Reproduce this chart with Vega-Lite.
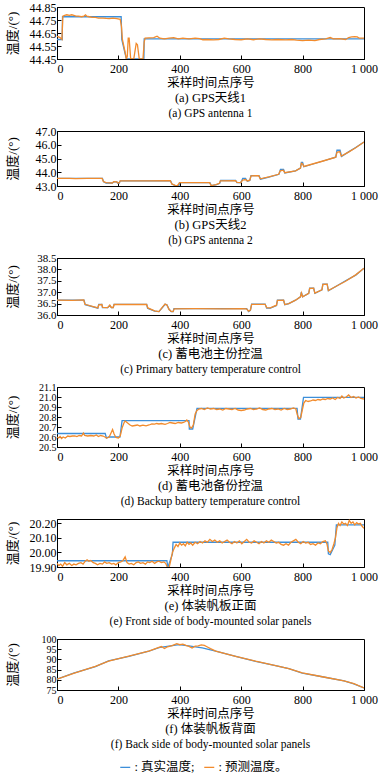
{
  "$schema": "https://vega.github.io/schema/vega-lite/v6.json",
  "padding": {"top": 0, "left": 5, "right": 2, "bottom": 0},
  "background": "white",
  "spacing": 72,
  "bounds": "flush",
  "resolve": {"scale": {"x": "independent", "y": "independent", "color": "shared"}, "legend": {"color": "shared"}},
  "datasets": {
    "a1": [{"x":0,"y":44.60},{"x":17,"y":44.60},{"x":18,"y":44.775},{"x":209,"y":44.775},{"x":211,"y":44.60},{"x":226,"y":44.45},{"x":283,"y":44.45},{"x":284,"y":44.605},{"x":1000,"y":44.605}],
    "a2": [{"x":0,"y":44.625},{"x":5,"y":44.62},{"x":10,"y":44.615},{"x":14,"y":44.605},{"x":16,"y":44.60},{"x":19,"y":44.78},{"x":25,"y":44.785},{"x":32,"y":44.79},{"x":40,"y":44.785},{"x":48,"y":44.79},{"x":55,"y":44.785},{"x":62,"y":44.78},{"x":70,"y":44.78},{"x":80,"y":44.775},{"x":88,"y":44.78},{"x":93,"y":44.79},{"x":97,"y":44.78},{"x":105,"y":44.775},{"x":115,"y":44.77},{"x":125,"y":44.77},{"x":135,"y":44.765},{"x":150,"y":44.765},{"x":160,"y":44.762},{"x":170,"y":44.76},{"x":182,"y":44.765},{"x":195,"y":44.76},{"x":206,"y":44.755},{"x":210,"y":44.70},{"x":213,"y":44.60},{"x":222,"y":44.50},{"x":226,"y":44.45},{"x":229,"y":44.47},{"x":232,"y":44.61},{"x":235,"y":44.61},{"x":240,"y":44.45},{"x":250,"y":44.45},{"x":258,"y":44.57},{"x":262,"y":44.56},{"x":268,"y":44.45},{"x":280,"y":44.45},{"x":284,"y":44.58},{"x":287,"y":44.61},{"x":300,"y":44.612},{"x":315,"y":44.615},{"x":326,"y":44.625},{"x":335,"y":44.61},{"x":350,"y":44.605},{"x":365,"y":44.61},{"x":380,"y":44.615},{"x":395,"y":44.605},{"x":410,"y":44.61},{"x":430,"y":44.605},{"x":450,"y":44.61},{"x":465,"y":44.607},{"x":475,"y":44.598},{"x":490,"y":44.60},{"x":510,"y":44.597},{"x":527,"y":44.60},{"x":545,"y":44.61},{"x":560,"y":44.605},{"x":580,"y":44.60},{"x":600,"y":44.598},{"x":620,"y":44.605},{"x":640,"y":44.598},{"x":660,"y":44.605},{"x":680,"y":44.60},{"x":700,"y":44.597},{"x":720,"y":44.60},{"x":745,"y":44.597},{"x":765,"y":44.60},{"x":780,"y":44.595},{"x":800,"y":44.592},{"x":820,"y":44.595},{"x":840,"y":44.592},{"x":855,"y":44.60},{"x":875,"y":44.605},{"x":890,"y":44.615},{"x":900,"y":44.605},{"x":920,"y":44.607},{"x":940,"y":44.60},{"x":950,"y":44.615},{"x":960,"y":44.62},{"x":970,"y":44.622},{"x":978,"y":44.62},{"x":985,"y":44.61},{"x":1000,"y":44.61}],
    "b1": [{"x":0,"y":43.55},{"x":148,"y":43.55},{"x":152,"y":43.3},{"x":160,"y":43.22},{"x":180,"y":43.22},{"x":185,"y":43.3},{"x":195,"y":43.3},{"x":197,"y":43.22},{"x":203,"y":43.22},{"x":206,"y":43.38},{"x":370,"y":43.38},{"x":375,"y":43.12},{"x":390,"y":43.0},{"x":397,"y":43.0},{"x":399,"y":43.25},{"x":498,"y":43.25},{"x":503,"y":43.02},{"x":520,"y":43.1},{"x":530,"y":43.2},{"x":533,"y":43.4},{"x":582,"y":43.4},{"x":586,"y":43.25},{"x":598,"y":43.25},{"x":602,"y":43.4},{"x":605,"y":43.55},{"x":614,"y":43.55},{"x":620,"y":43.35},{"x":628,"y":43.4},{"x":632,"y":43.75},{"x":658,"y":43.75},{"x":663,"y":43.5},{"x":690,"y":43.65},{"x":723,"y":43.85},{"x":728,"y":44.2},{"x":738,"y":44.2},{"x":742,"y":43.95},{"x":777,"y":44.1},{"x":793,"y":44.3},{"x":796,"y":44.72},{"x":800,"y":44.72},{"x":804,"y":44.4},{"x":864,"y":44.8},{"x":908,"y":45.1},{"x":912,"y":45.6},{"x":922,"y":45.6},{"x":927,"y":45.15},{"x":951,"y":45.5},{"x":973,"y":45.8},{"x":1000,"y":46.2}],
    "b2": [{"x":0,"y":43.56},{"x":40,"y":43.55},{"x":60,"y":43.53},{"x":100,"y":43.56},{"x":147,"y":43.55},{"x":151,"y":43.32},{"x":160,"y":43.24},{"x":180,"y":43.22},{"x":185,"y":43.32},{"x":195,"y":43.3},{"x":198,"y":43.22},{"x":203,"y":43.24},{"x":206,"y":43.38},{"x":260,"y":43.38},{"x":300,"y":43.37},{"x":369,"y":43.38},{"x":374,"y":43.15},{"x":385,"y":43.05},{"x":392,"y":43.02},{"x":398,"y":43.2},{"x":400,"y":43.24},{"x":450,"y":43.25},{"x":497,"y":43.24},{"x":502,"y":43.03},{"x":518,"y":43.1},{"x":529,"y":43.2},{"x":532,"y":43.38},{"x":581,"y":43.39},{"x":586,"y":43.27},{"x":598,"y":43.25},{"x":603,"y":43.38},{"x":608,"y":43.45},{"x":614,"y":43.47},{"x":620,"y":43.37},{"x":628,"y":43.42},{"x":632,"y":43.74},{"x":657,"y":43.75},{"x":662,"y":43.52},{"x":690,"y":43.66},{"x":722,"y":43.85},{"x":727,"y":44.1},{"x":737,"y":44.15},{"x":742,"y":43.97},{"x":777,"y":44.1},{"x":793,"y":44.3},{"x":796,"y":44.65},{"x":800,"y":44.6},{"x":804,"y":44.42},{"x":864,"y":44.8},{"x":908,"y":45.1},{"x":912,"y":45.45},{"x":921,"y":45.5},{"x":926,"y":45.17},{"x":951,"y":45.48},{"x":973,"y":45.78},{"x":1000,"y":46.2}],
    "c1": [{"x":0,"y":36.65},{"x":88,"y":36.65},{"x":92,"y":36.45},{"x":133,"y":36.3},{"x":136,"y":36.47},{"x":146,"y":36.47},{"x":148,"y":36.32},{"x":165,"y":36.32},{"x":172,"y":36.42},{"x":177,"y":36.32},{"x":183,"y":36.32},{"x":186,"y":36.47},{"x":292,"y":36.47},{"x":295,"y":36.3},{"x":318,"y":36.17},{"x":332,"y":36.15},{"x":342,"y":36.3},{"x":352,"y":36.47},{"x":358,"y":36.45},{"x":365,"y":36.25},{"x":372,"y":36.15},{"x":378,"y":36.15},{"x":381,"y":36.28},{"x":618,"y":36.28},{"x":624,"y":36.15},{"x":630,"y":36.2},{"x":634,"y":36.48},{"x":678,"y":36.48},{"x":683,"y":36.3},{"x":695,"y":36.3},{"x":715,"y":36.42},{"x":718,"y":36.65},{"x":738,"y":36.65},{"x":742,"y":36.45},{"x":755,"y":36.5},{"x":777,"y":36.65},{"x":793,"y":36.8},{"x":796,"y":37.0},{"x":800,"y":36.8},{"x":820,"y":36.95},{"x":823,"y":37.18},{"x":836,"y":37.18},{"x":840,"y":36.95},{"x":863,"y":37.1},{"x":866,"y":37.35},{"x":880,"y":37.35},{"x":884,"y":37.06},{"x":908,"y":37.25},{"x":940,"y":37.5},{"x":973,"y":37.75},{"x":1000,"y":38.05}],
    "c2": [{"x":0,"y":36.65},{"x":50,"y":36.64},{"x":87,"y":36.66},{"x":91,"y":36.47},{"x":133,"y":36.31},{"x":136,"y":36.45},{"x":146,"y":36.46},{"x":149,"y":36.33},{"x":165,"y":36.32},{"x":172,"y":36.43},{"x":177,"y":36.33},{"x":183,"y":36.33},{"x":186,"y":36.46},{"x":250,"y":36.47},{"x":292,"y":36.46},{"x":296,"y":36.31},{"x":318,"y":36.18},{"x":332,"y":36.15},{"x":342,"y":36.32},{"x":352,"y":36.48},{"x":358,"y":36.44},{"x":365,"y":36.24},{"x":372,"y":36.16},{"x":378,"y":36.15},{"x":382,"y":36.27},{"x":450,"y":36.28},{"x":540,"y":36.27},{"x":600,"y":36.28},{"x":617,"y":36.27},{"x":624,"y":36.17},{"x":630,"y":36.22},{"x":634,"y":36.47},{"x":678,"y":36.47},{"x":683,"y":36.32},{"x":695,"y":36.31},{"x":715,"y":36.43},{"x":718,"y":36.64},{"x":738,"y":36.65},{"x":742,"y":36.46},{"x":755,"y":36.5},{"x":777,"y":36.65},{"x":793,"y":36.8},{"x":796,"y":36.97},{"x":800,"y":36.8},{"x":820,"y":36.95},{"x":823,"y":37.17},{"x":836,"y":37.18},{"x":840,"y":36.96},{"x":863,"y":37.1},{"x":866,"y":37.34},{"x":880,"y":37.35},{"x":884,"y":37.07},{"x":908,"y":37.25},{"x":940,"y":37.48},{"x":973,"y":37.76},{"x":1000,"y":38.05}],
    "d1": [{"x":0,"y":20.635},{"x":157,"y":20.635},{"x":161,"y":20.59},{"x":168,"y":20.6},{"x":205,"y":20.6},{"x":212,"y":20.763},{"x":430,"y":20.763},{"x":431,"y":20.68},{"x":442,"y":20.68},{"x":456,"y":20.887},{"x":782,"y":20.887},{"x":785,"y":20.78},{"x":793,"y":20.78},{"x":803,"y":20.997},{"x":1000,"y":20.997}],
    "d2": [{"x":0,"y":20.60},{"x":5,"y":20.59},{"x":10,"y":20.605},{"x":15,"y":20.585},{"x":20,"y":20.60},{"x":27,"y":20.59},{"x":35,"y":20.61},{"x":42,"y":20.605},{"x":50,"y":20.61},{"x":58,"y":20.612},{"x":65,"y":20.605},{"x":72,"y":20.615},{"x":80,"y":20.61},{"x":86,"y":20.64},{"x":90,"y":20.615},{"x":100,"y":20.61},{"x":110,"y":20.615},{"x":120,"y":20.61},{"x":128,"y":20.62},{"x":135,"y":20.605},{"x":142,"y":20.615},{"x":150,"y":20.61},{"x":156,"y":20.60},{"x":162,"y":20.59},{"x":170,"y":20.60},{"x":176,"y":20.64},{"x":181,"y":20.675},{"x":186,"y":20.63},{"x":192,"y":20.595},{"x":200,"y":20.59},{"x":206,"y":20.61},{"x":212,"y":20.69},{"x":218,"y":20.74},{"x":222,"y":20.76},{"x":228,"y":20.745},{"x":234,"y":20.73},{"x":238,"y":20.72},{"x":245,"y":20.71},{"x":254,"y":20.715},{"x":262,"y":20.72},{"x":270,"y":20.71},{"x":280,"y":20.718},{"x":290,"y":20.712},{"x":300,"y":20.72},{"x":309,"y":20.73},{"x":318,"y":20.728},{"x":325,"y":20.735},{"x":332,"y":20.73},{"x":340,"y":20.735},{"x":352,"y":20.727},{"x":360,"y":20.735},{"x":368,"y":20.745},{"x":376,"y":20.74},{"x":385,"y":20.735},{"x":395,"y":20.745},{"x":405,"y":20.74},{"x":412,"y":20.745},{"x":418,"y":20.755},{"x":423,"y":20.77},{"x":428,"y":20.75},{"x":433,"y":20.70},{"x":438,"y":20.69},{"x":444,"y":20.72},{"x":450,"y":20.83},{"x":456,"y":20.865},{"x":462,"y":20.88},{"x":470,"y":20.885},{"x":480,"y":20.875},{"x":490,"y":20.89},{"x":500,"y":20.88},{"x":510,"y":20.885},{"x":520,"y":20.875},{"x":530,"y":20.88},{"x":540,"y":20.87},{"x":550,"y":20.885},{"x":560,"y":20.88},{"x":570,"y":20.875},{"x":580,"y":20.885},{"x":590,"y":20.87},{"x":600,"y":20.865},{"x":610,"y":20.87},{"x":620,"y":20.88},{"x":630,"y":20.885},{"x":640,"y":20.875},{"x":650,"y":20.88},{"x":660,"y":20.89},{"x":670,"y":20.875},{"x":680,"y":20.87},{"x":690,"y":20.88},{"x":700,"y":20.885},{"x":710,"y":20.875},{"x":720,"y":20.88},{"x":730,"y":20.87},{"x":740,"y":20.885},{"x":750,"y":20.875},{"x":760,"y":20.88},{"x":770,"y":20.89},{"x":778,"y":20.88},{"x":783,"y":20.82},{"x":788,"y":20.785},{"x":794,"y":20.795},{"x":799,"y":20.87},{"x":804,"y":20.94},{"x":810,"y":20.965},{"x":818,"y":20.955},{"x":826,"y":20.96},{"x":834,"y":20.97},{"x":842,"y":20.965},{"x":850,"y":20.975},{"x":858,"y":20.97},{"x":866,"y":20.98},{"x":874,"y":20.975},{"x":882,"y":20.985},{"x":890,"y":20.98},{"x":898,"y":20.99},{"x":906,"y":20.975},{"x":914,"y":20.995},{"x":922,"y":20.985},{"x":928,"y":21.01},{"x":934,"y":20.99},{"x":942,"y":21.0},{"x":950,"y":21.02},{"x":958,"y":20.995},{"x":966,"y":21.005},{"x":974,"y":20.99},{"x":982,"y":21.0},{"x":990,"y":20.985},{"x":1000,"y":20.98}],
    "e1": [{"x":0,"y":19.943},{"x":358,"y":19.943},{"x":361,"y":19.897},{"x":376,"y":19.99},{"x":378,"y":20.07},{"x":882,"y":20.07},{"x":884,"y":19.99},{"x":890,"y":19.985},{"x":905,"y":20.05},{"x":910,"y":20.19},{"x":1000,"y":20.19}],
    "e2": [{"x":0,"y":19.925},{"x":6,"y":19.91},{"x":12,"y":19.92},{"x":18,"y":19.905},{"x":25,"y":19.93},{"x":32,"y":19.915},{"x":40,"y":19.925},{"x":48,"y":19.91},{"x":55,"y":19.92},{"x":62,"y":19.915},{"x":70,"y":19.925},{"x":78,"y":19.93},{"x":85,"y":19.92},{"x":92,"y":19.94},{"x":98,"y":19.95},{"x":104,"y":19.94},{"x":110,"y":19.945},{"x":118,"y":19.93},{"x":125,"y":19.925},{"x":132,"y":19.915},{"x":140,"y":19.925},{"x":148,"y":19.92},{"x":155,"y":19.935},{"x":162,"y":19.925},{"x":170,"y":19.93},{"x":178,"y":19.92},{"x":185,"y":19.925},{"x":192,"y":19.915},{"x":200,"y":19.93},{"x":208,"y":19.935},{"x":215,"y":19.945},{"x":222,"y":19.97},{"x":228,"y":19.93},{"x":235,"y":19.92},{"x":242,"y":19.925},{"x":250,"y":19.915},{"x":258,"y":19.93},{"x":265,"y":19.935},{"x":272,"y":19.925},{"x":280,"y":19.93},{"x":288,"y":19.92},{"x":295,"y":19.935},{"x":302,"y":19.93},{"x":310,"y":19.94},{"x":318,"y":19.925},{"x":325,"y":19.935},{"x":332,"y":19.94},{"x":340,"y":19.93},{"x":348,"y":19.935},{"x":354,"y":19.925},{"x":359,"y":19.90},{"x":364,"y":19.885},{"x":370,"y":19.94},{"x":376,"y":20.00},{"x":382,"y":20.03},{"x":388,"y":20.055},{"x":394,"y":20.04},{"x":400,"y":20.065},{"x":406,"y":20.05},{"x":412,"y":20.06},{"x":418,"y":20.045},{"x":424,"y":20.07},{"x":430,"y":20.055},{"x":436,"y":20.065},{"x":442,"y":20.05},{"x":450,"y":20.07},{"x":458,"y":20.06},{"x":466,"y":20.075},{"x":474,"y":20.065},{"x":482,"y":20.08},{"x":490,"y":20.07},{"x":498,"y":20.09},{"x":506,"y":20.075},{"x":514,"y":20.085},{"x":522,"y":20.07},{"x":530,"y":20.08},{"x":538,"y":20.065},{"x":546,"y":20.075},{"x":554,"y":20.085},{"x":562,"y":20.07},{"x":570,"y":20.06},{"x":578,"y":20.075},{"x":586,"y":20.065},{"x":594,"y":20.08},{"x":602,"y":20.06},{"x":610,"y":20.075},{"x":618,"y":20.09},{"x":626,"y":20.07},{"x":634,"y":20.065},{"x":642,"y":20.08},{"x":650,"y":20.07},{"x":658,"y":20.06},{"x":666,"y":20.075},{"x":674,"y":20.065},{"x":682,"y":20.08},{"x":690,"y":20.07},{"x":698,"y":20.085},{"x":706,"y":20.075},{"x":714,"y":20.065},{"x":722,"y":20.07},{"x":730,"y":20.055},{"x":738,"y":20.05},{"x":746,"y":20.06},{"x":754,"y":20.05},{"x":762,"y":20.07},{"x":770,"y":20.08},{"x":778,"y":20.09},{"x":786,"y":20.07},{"x":794,"y":20.06},{"x":802,"y":20.075},{"x":810,"y":20.065},{"x":818,"y":20.07},{"x":826,"y":20.055},{"x":834,"y":20.06},{"x":842,"y":20.05},{"x":850,"y":20.065},{"x":858,"y":20.06},{"x":866,"y":20.075},{"x":874,"y":20.08},{"x":879,"y":20.06},{"x":884,"y":20.01},{"x":890,"y":20.0},{"x":896,"y":20.02},{"x":902,"y":20.06},{"x":907,"y":20.10},{"x":912,"y":20.17},{"x":917,"y":20.2},{"x":922,"y":20.185},{"x":928,"y":20.21},{"x":934,"y":20.195},{"x":940,"y":20.2},{"x":946,"y":20.185},{"x":952,"y":20.22},{"x":958,"y":20.2},{"x":964,"y":20.21},{"x":970,"y":20.19},{"x":976,"y":20.205},{"x":982,"y":20.195},{"x":988,"y":20.2},{"x":994,"y":20.18},{"x":1000,"y":20.165}],
    "f1": [{"x":0,"y":80.3},{"x":54,"y":83.3},{"x":125,"y":86.5},{"x":168,"y":89.3},{"x":234,"y":91.5},{"x":299,"y":94},{"x":332,"y":95.8},{"x":397,"y":97.2},{"x":429,"y":96.6},{"x":473,"y":95.6},{"x":517,"y":94},{"x":582,"y":91.5},{"x":647,"y":89},{"x":712,"y":87},{"x":755,"y":85.5},{"x":799,"y":83.3},{"x":864,"y":81.5},{"x":935,"y":79.5},{"x":967,"y":78},{"x":1000,"y":76}],
    "f2": [{"x":0,"y":80.3},{"x":54,"y":83.2},{"x":125,"y":86.6},{"x":168,"y":89.2},{"x":234,"y":91.6},{"x":299,"y":94.1},{"x":332,"y":95.9},{"x":340,"y":96.3},{"x":350,"y":95.3},{"x":360,"y":96.2},{"x":375,"y":96.8},{"x":390,"y":97.7},{"x":400,"y":97.2},{"x":410,"y":97.5},{"x":420,"y":96.9},{"x":430,"y":96.4},{"x":440,"y":95.6},{"x":450,"y":96.5},{"x":460,"y":96.6},{"x":470,"y":97.1},{"x":480,"y":96.9},{"x":490,"y":96.1},{"x":500,"y":95.3},{"x":517,"y":94.1},{"x":582,"y":91.5},{"x":647,"y":89.1},{"x":712,"y":87},{"x":755,"y":85.5},{"x":799,"y":83.4},{"x":864,"y":81.5},{"x":935,"y":79.5},{"x":967,"y":78.1},{"x":1000,"y":76}]
  },
  "vconcat": [
    {
      "width": 307, "height": 52,
      "title": {"text": "(a) GPS天线1", "subtitle": "(a) GPS antenna 1"},
      "encoding": {
        "x": {"field": "x", "type": "quantitative", "scale": {"domain": [0, 1000]}, "axis": {"values": [0,200,400,600,800,1000], "title": "采样时间点序号", "labelAlign": {"condition": {"test": "datum.value == 0", "value": "left"}, "value": "center"}}},
        "y": {"field": "y", "type": "quantitative", "scale": {"domain": [44.45, 44.85], "zero": false}, "axis": {"values": [44.45,44.55,44.65,44.75,44.85], "format": ".2f", "title": "温度/(°)"}}
      },
      "layer": [
        {"data": {"name": "a1"}, "mark": {"type": "line", "clip": true}, "encoding": {"color": {"datum": "真实温度", "legend": {"orient": "none", "legendX": 62, "legendY": 754, "direction": "horizontal", "title": null, "labelExpr": "datum.label == '真实温度' ? ': 真实温度;' : ': 预测温度。'"}}}},
        {"data": {"name": "a2"}, "mark": {"type": "line", "clip": true}, "encoding": {"color": {"datum": "预测温度"}}}
      ]
    },
    {
      "width": 307, "height": 55,
      "title": {"text": "(b) GPS天线2", "subtitle": "(b) GPS antenna 2"},
      "encoding": {
        "x": {"field": "x", "type": "quantitative", "scale": {"domain": [0, 1000]}, "axis": {"values": [0,200,400,600,800,1000], "title": "采样时间点序号", "labelAlign": {"condition": {"test": "datum.value == 0", "value": "left"}, "value": "center"}}},
        "y": {"field": "y", "type": "quantitative", "scale": {"domain": [43, 47], "zero": false}, "axis": {"values": [43,44,45,46,47], "format": ".1f", "title": "温度/(°)"}}
      },
      "layer": [
        {"data": {"name": "b1"}, "mark": {"type": "line", "clip": true}, "encoding": {"color": {"datum": "真实温度"}}},
        {"data": {"name": "b2"}, "mark": {"type": "line", "clip": true}, "encoding": {"color": {"datum": "预测温度"}}}
      ]
    },
    {
      "width": 307, "height": 57,
      "title": {"text": "(c) 蓄电池主份控温", "subtitle": "(c) Primary battery temperature control"},
      "encoding": {
        "x": {"field": "x", "type": "quantitative", "scale": {"domain": [0, 1000]}, "axis": {"values": [0,200,400,600,800,1000], "title": "采样时间点序号", "labelAlign": {"condition": {"test": "datum.value == 0", "value": "left"}, "value": "center"}}},
        "y": {"field": "y", "type": "quantitative", "scale": {"domain": [36, 38.5], "zero": false}, "axis": {"values": [36,36.5,37,37.5,38,38.5], "format": ".1f", "title": "温度/(°)", "labelFontSize": 11}}
      },
      "layer": [
        {"data": {"name": "c1"}, "mark": {"type": "line", "clip": true}, "encoding": {"color": {"datum": "真实温度"}}},
        {"data": {"name": "c2"}, "mark": {"type": "line", "clip": true}, "encoding": {"color": {"datum": "预测温度"}}}
      ]
    },
    {
      "width": 307, "height": 60,
      "title": {"text": "(d) 蓄电池备份控温", "subtitle": "(d) Backup battery temperature control"},
      "encoding": {
        "x": {"field": "x", "type": "quantitative", "scale": {"domain": [0, 1000]}, "axis": {"values": [0,200,400,600,800,1000], "title": "采样时间点序号", "labelAlign": {"condition": {"test": "datum.value == 0", "value": "left"}, "value": "center"}}},
        "y": {"field": "y", "type": "quantitative", "scale": {"domain": [20.5, 21.1], "zero": false}, "axis": {"values": [20.5,20.6,20.7,20.8,20.9,21.0,21.1], "format": ".1f", "title": "温度/(°)", "labelFontSize": 10}}
      },
      "layer": [
        {"data": {"name": "d1"}, "mark": {"type": "line", "clip": true}, "encoding": {"color": {"datum": "真实温度"}}},
        {"data": {"name": "d2"}, "mark": {"type": "line", "clip": true}, "encoding": {"color": {"datum": "预测温度"}}}
      ]
    },
    {
      "width": 307, "height": 48,
      "title": {"text": "(e) 体装帆板正面", "subtitle": "(e) Front side of body-mounted solar panels"},
      "encoding": {
        "x": {"field": "x", "type": "quantitative", "scale": {"domain": [0, 1000]}, "axis": {"values": [0,200,400,600,800,1000], "title": "采样时间点序号", "labelAlign": {"condition": {"test": "datum.value == 0", "value": "left"}, "value": "center"}}},
        "y": {"field": "y", "type": "quantitative", "scale": {"domain": [19.9, 20.23], "zero": false, "nice": false}, "axis": {"values": [19.9,20.0,20.1,20.2], "format": ".2f", "title": "温度/(°)"}}
      },
      "layer": [
        {"data": {"name": "e1"}, "mark": {"type": "line", "clip": true}, "encoding": {"color": {"datum": "真实温度"}}},
        {"data": {"name": "e2"}, "mark": {"type": "line", "clip": true}, "encoding": {"color": {"datum": "预测温度"}}}
      ]
    },
    {
      "width": 307, "height": 51,
      "title": {"text": "(f) 体装帆板背面", "subtitle": "(f) Back side of body-mounted solar panels"},
      "encoding": {
        "x": {"field": "x", "type": "quantitative", "scale": {"domain": [0, 1000]}, "axis": {"values": [0,200,400,600,800,1000], "title": "采样时间点序号", "labelAlign": {"condition": {"test": "datum.value == 0", "value": "left"}, "value": "center"}}},
        "y": {"field": "y", "type": "quantitative", "scale": {"domain": [75, 100], "zero": false}, "axis": {"values": [75,80,85,90,95,100], "format": "d", "title": "温度/(°)", "labelFontSize": 10}}
      },
      "layer": [
        {"data": {"name": "f1"}, "mark": {"type": "line", "clip": true}, "encoding": {"color": {"datum": "真实温度"}}},
        {"data": {"name": "f2"}, "mark": {"type": "line", "clip": true}, "encoding": {"color": {"datum": "预测温度"}}}
      ]
    }
  ],
  "config": {
    "view": {"stroke": "black", "strokeWidth": 1},
    "line": {"strokeWidth": 1.3},
    "range": {"category": ["#3d8fd9", "#f28b2c"]},
    "axis": {
      "grid": false,
      "domainColor": "black",
      "tickColor": "black",
      "tickSize": -4,
      "labelOverlap": false,
      "labelFont": "Liberation Serif",
      "labelFontSize": 12,
      "labelColor": "black",
      "titleFont": "Liberation Serif, Noto Sans CJK SC",
      "titleFontSize": 12.5,
      "titleFontWeight": "normal",
      "titleColor": "black"
    },
    "axisX": {"labelFlush": false, "labelPadding": 8, "titlePadding": 2, "labelExpr": "datum.value == 1000 ? '1 000' : datum.label"},
    "axisY": {"labelPadding": 5, "titleX": -38, "titleFontSize": 13},
    "title": {
      "orient": "bottom",
      "anchor": "middle",
      "font": "Liberation Serif, Noto Sans CJK SC",
      "fontSize": 12.5,
      "fontWeight": "normal",
      "color": "black",
      "subtitleFont": "Liberation Serif",
      "subtitleFontSize": 11.5,
      "subtitleColor": "black",
      "subtitlePadding": 4,
      "offset": 3
    },
    "legend": {
      "symbolType": "stroke",
      "symbolSize": 100,
      "symbolStrokeWidth": 1.5,
      "labelFont": "Liberation Serif, Noto Sans CJK SC",
      "labelFontSize": 12.5,
      "labelColor": "black",
      "labelOffset": 3,
      "columnPadding": 6
    }
  }
}
